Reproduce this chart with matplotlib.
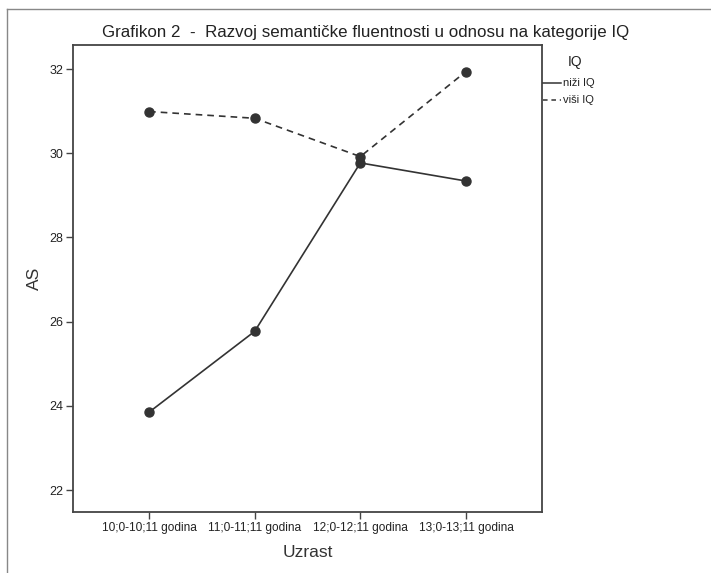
import matplotlib
matplotlib.use("Agg")
import matplotlib.pyplot as plt
from matplotlib.lines import Line2D

plt.rcParams['font.family'] = ['Liberation Sans', 'DejaVu Sans']

categories = ["10;0-10;11 godina", "11;0-11;11 godina", "12;0-12;11 godina", "13;0-13;11 godina"]
nizi_iq = [23.85, 25.77, 29.77, 29.34]
visi_iq = [30.99, 30.83, 29.92, 31.94]
series_labels = ["niži IQ", "viši IQ"]
y_ticks = [22, 24, 26, 28, 30, 32]

W, H = 711, 573
fig = plt.figure(figsize=(W / 100, H / 100), dpi=100)
ax = fig.add_axes([73 / W, 1 - 512 / H, (542 - 73) / W, (512 - 45) / H])

col = "#333333"
x = list(range(len(categories)))
ax.plot(x, nizi_iq, color=col, lw=1.2, ls="-", marker="o", ms=6.5,
        markerfacecolor=col, markeredgecolor=col)
ax.plot(x, visi_iq, color=col, lw=1.2, ls=(0, (4, 3)), marker="o", ms=6.5,
        markerfacecolor=col, markeredgecolor=col)

ax.set_xlim(-0.72, 3.72)
ax.set_ylim(21.48, 32.57)
ax.set_xticks(x)
ax.set_xticklabels(categories, fontsize=8.6)
ax.set_yticks(y_ticks)
ax.set_yticklabels([str(v) for v in y_ticks], fontsize=9)
ax.tick_params(direction="out", length=5, width=1, color="#444444", pad=2, labelcolor="#222222")
for s in ax.spines.values():
    s.set_color("#444444")
    s.set_linewidth(1.3)

ax.set_xlabel("Uzrast", fontsize=12.5, color="#333333", labelpad=8)
ax.set_ylabel("AS", fontsize=12.5, color="#333333", labelpad=5)

fig.text(366 / W, 1 - 33 / H, "Grafikon 2  -  Razvoj semantičke fluentnosti u odnosu na kategorije IQ",
         ha="center", va="center", fontsize=12.2, color="#222222")

# legend
fig.text(568 / W, 1 - 62 / H, "IQ", ha="left", va="center", fontsize=10, color="#222222")
leg_items = [("-", 83), ((0, (3, 2.5)), 100)]
for (ls, yy), lab in zip(leg_items, series_labels):
    fig.add_artist(Line2D([543 / W, 561 / W], [1 - yy / H, 1 - yy / H], color=col, lw=1.1, ls=ls))
    fig.text(563 / W, 1 - yy / H, lab, ha="left", va="center", fontsize=8, color="#222222")

# outer frame
fig.add_artist(Line2D([7 / W, 7 / W], [0, 1 - 9 / H], color="#888888", lw=1))
fig.add_artist(Line2D([7 / W, 1], [1 - 9 / H, 1 - 9 / H], color="#888888", lw=1))

fig.savefig("out.png", dpi=100)
